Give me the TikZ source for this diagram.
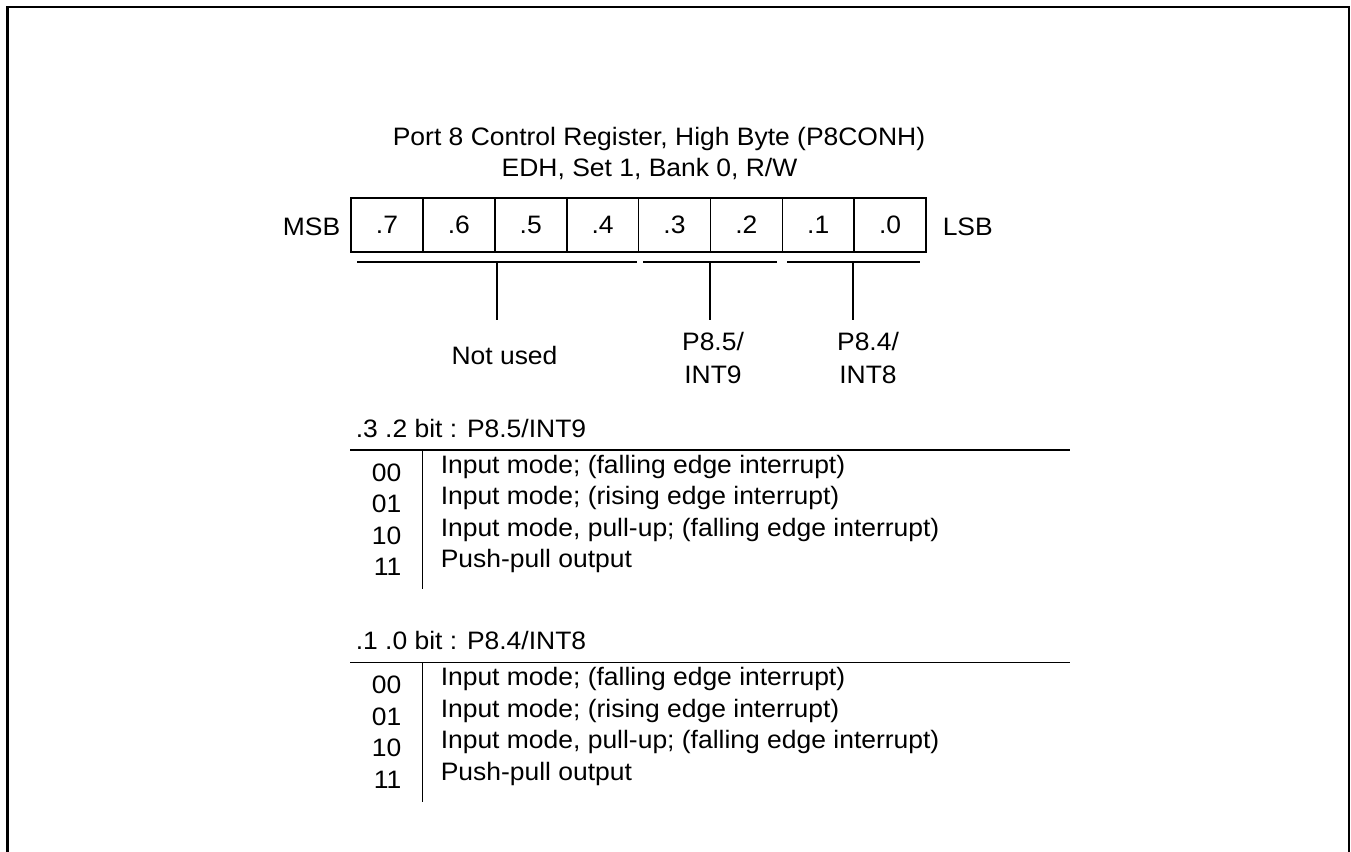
\documentclass[tikz,border=0pt]{standalone}
\usepackage{fontspec}
\setmainfont[FakeStretch=1.05]{Liberation Sans}
\begin{document}
\begin{tikzpicture}[x=0.5pt, y=-0.5pt, line width=0.75pt,
  txt/.style={inner sep=0pt, font=\fontsize{12.6}{15}\selectfont},
  bitcell/.style={draw, minimum width=36pt, minimum height=27pt,
    inner sep=0pt, font=\fontsize{12.6}{15}\selectfont}]
  \useasboundingbox (0,0) rectangle (1351,852);
  \def\cw{71.875}

  % outer frame, open at the bottom
  \draw[line width=1.2pt] (7.5,852) -- (7.5,7) -- (1349,7) -- (1349,852);

  % title
  \node[txt, anchor=base] (title) at (659,145)
    {Port 8 Control Register, High Byte (P8CONH)};
  \node[txt, anchor=base] (addr) at (649.5,176) {EDH, Set 1, Bank 0, R/W};

  % register cells
  \foreach \b [count=\i from 0] in {7,...,0} {
    \node[bitcell] (b\b) at ({387+\cw*\i},225) {.\b};
  }
  \node[txt, anchor=base east] (msb) at (341,235) {MSB};
  \node[txt, anchor=base west] (lsb) at (942,235) {LSB};

  % field brackets and ticks
  \draw (357,262) -- (637,262);
  \draw (643,262) -- (777,262);
  \draw (787,262) -- (920,262);
  \coordinate (tnu) at (497,262);
  \coordinate (t85) at (710,262);
  \coordinate (t84) at (853,262);
  \foreach \t in {tnu,t85,t84}
    \draw (\t) -- ++(0,58);

  % field names
  \node[txt, anchor=base] (notused) at (504.5,364) {Not used};
  \node[txt, anchor=base] (p85) at (713,350) {P8.5/};
  \node[txt, anchor=base] (int9) at (713,383) {INT9};
  \node[txt, anchor=base] (p84) at (868,350) {P8.4/};
  \node[txt, anchor=base] (int8) at (868,383) {INT8};

  % bit tables
  \foreach \s/\yo/\head in {1/0/{.3 .2 bit : P8.5/INT9}, 2/212.5/{.1 .0 bit : P8.4/INT8}} {
    \begin{scope}[shift={(0,\yo)}]
      \node[txt, anchor=base west] (head\s) at (355,437) {\head};
      \draw (350,450) -- (1070,450);
      \draw (422.7,450) -- (422.7,589);
      \foreach \code/\desc [count=\k from 0] in {
          00/{Input mode; (falling edge interrupt)},
          01/{Input mode; (rising edge interrupt)},
          10/{Input mode, pull-up; (falling edge interrupt)},
          11/{Push-pull output}} {
        \node[txt, anchor=base east] (c\s-\code) at (402,{481+31.5*\k}) {\code};
        \node[txt, anchor=base west] (d\s-\code) at (440,{473+31.5*\k}) {\desc};
      }
    \end{scope}
  }
\end{tikzpicture}
\end{document}
